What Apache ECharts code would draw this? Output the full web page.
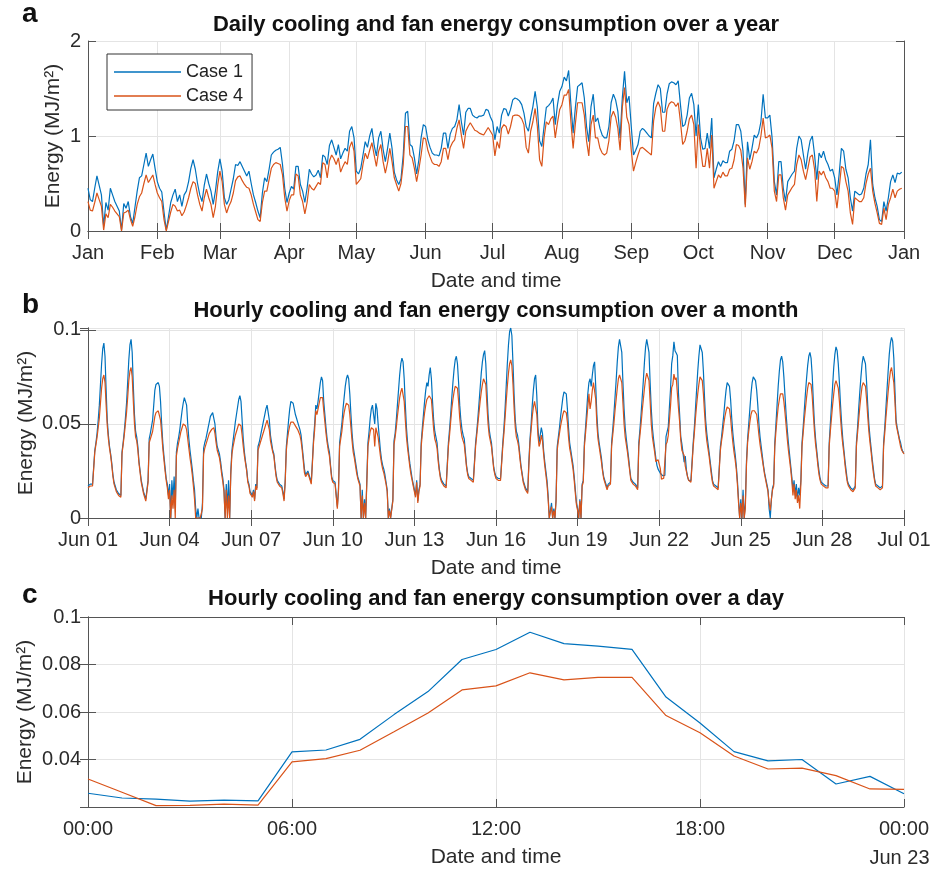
<!DOCTYPE html>
<html>
<head>
<meta charset="utf-8">
<script src="https://cdn.jsdelivr.net/npm/echarts@6/dist/echarts.min.js"></script>
<style>
html,body{margin:0;padding:0;background:#fff;}
#chart{width:930px;height:870px;}
</style>
</head>
<body>
<div id="chart"></div>
<script>
// ---------------- DATA ----------------
const seriesNames = ['Case 1', 'Case 4'];

// Panel a: daily values (Jan 1 .. Dec 31)
const monthLabels = ['Jan','Feb','Mar','Apr','May','Jun','Jul','Aug','Sep','Oct','Nov','Dec','Jan'];
const monthStartDays = [0,31,59,90,120,151,181,212,243,273,304,334,365];
const dailyCase1 = [
.45,.33,.31,.45,.58,.48,.38,.05,.30,.22,
.45,.38,.31,.26,.21,.01,.29,.24,.31,.15,
.08,.25,.42,.56,.58,.70,.82,.68,.75,.81,
.66,.52,.45,.41,.20,.01,.15,.30,.38,.44,
.31,.38,.26,.38,.42,.52,.66,.75,.65,.50,
.38,.31,.48,.60,.50,.42,.28,.42,.62,.76,
.63,.35,.28,.33,.44,.55,.70,.69,.73,.68,
.63,.58,.63,.50,.38,.30,.21,.14,.40,.56,
.52,.65,.80,.83,.85,.86,.88,.70,.45,.30,
.40,.47,.44,.68,.68,.49,.42,.30,.45,.65,
.60,.57,.59,.64,.56,.80,.78,.70,.90,.96,
.88,.80,.91,.76,.82,.87,.84,1.05,1.10,.98,
.63,.60,.66,.80,.94,.88,1.00,1.08,.90,.79,
.98,1.05,.86,.73,.87,1.03,.87,.62,.54,.49,
.55,.80,1.24,1.26,.91,.89,.77,.60,.75,.98,
1.12,1.10,.96,.88,.82,.80,.80,.79,.87,1.03,
1.03,.87,1.02,1.08,1.10,1.17,1.33,1.15,1.01,1.25,
1.29,1.29,1.22,1.20,1.19,1.21,1.21,1.22,1.28,1.27,
1.20,1.15,.96,1.10,1.03,1.22,1.29,1.28,1.21,1.28,
1.38,1.40,1.39,1.37,1.33,1.24,1.10,1.05,1.19,1.31,
1.47,1.30,.95,.89,1.10,1.30,1.32,1.35,1.40,1.12,
1.33,1.47,1.52,1.62,1.58,1.69,1.33,1.03,1.30,1.52,
1.54,1.56,1.40,1.10,.94,1.31,1.44,1.15,1.19,1.08,
1.01,.98,.98,1.10,1.35,1.44,1.38,1.26,.98,1.40,
1.68,1.35,1.42,1.10,.80,.85,.91,1.05,1.08,1.06,
1.03,1.00,.98,1.34,1.45,1.54,1.50,1.25,1.25,1.44,
1.55,1.57,1.56,1.54,1.58,1.33,1.10,1.12,1.22,1.40,
1.45,1.33,1.00,1.33,.98,.86,.87,1.03,.87,1.19,
.56,.65,.73,.68,.74,.72,.72,.84,.86,.95,
1.12,1.12,1.05,.84,.28,.94,.75,.87,1.01,.98,
1.03,1.15,1.44,1.19,1.19,1.22,.98,.52,.38,.73,
.73,.45,.31,.52,.56,.60,.63,.87,1.00,.96,
.80,.65,.82,.95,1.00,.80,.54,.82,.77,.84,
.75,.70,.63,.65,.56,.38,.60,.87,.84,.65,
.56,.35,.21,.42,.40,.38,.39,.45,.60,.70,
.96,.49,.35,.26,.12,.10,.31,.21,.35,.52,
.59,.51,.61,.60,.62
];
const dailyCase4 = [
.31,.22,.21,.30,.40,.33,.26,.01,.18,.14,
.28,.25,.21,.18,.15,.00,.19,.20,.22,.12,
.05,.15,.28,.36,.40,.50,.59,.51,.55,.59,
.49,.40,.35,.31,.12,.00,.10,.20,.28,.26,
.21,.22,.16,.20,.27,.35,.45,.52,.50,.38,
.28,.21,.35,.44,.35,.28,.14,.26,.48,.63,
.52,.28,.19,.26,.31,.40,.53,.57,.58,.53,
.49,.46,.45,.38,.28,.20,.12,.10,.30,.42,
.42,.54,.66,.70,.72,.71,.70,.59,.35,.21,
.32,.38,.38,.60,.58,.38,.31,.18,.30,.49,
.45,.43,.47,.51,.49,.72,.70,.56,.74,.80,
.76,.70,.77,.62,.68,.73,.70,.88,.94,.84,
.49,.52,.55,.70,.82,.76,.85,.93,.80,.68,
.84,.91,.73,.61,.72,.87,.73,.56,.49,.42,
.50,.70,1.10,1.10,.80,.77,.66,.52,.65,.80,
.98,.97,.85,.78,.72,.70,.70,.68,.73,.87,
.87,.75,.88,.93,.96,1.08,1.17,1.01,.87,1.05,
1.10,1.14,1.10,1.06,1.05,1.03,1.02,1.01,1.05,1.09,
1.05,1.01,.79,.94,.87,1.08,1.12,1.10,1.02,1.10,
1.21,1.22,1.22,1.21,1.18,1.12,.88,.82,1.05,1.15,
1.29,1.10,.75,.68,.98,1.15,1.12,1.18,1.21,.98,
1.14,1.28,1.33,1.43,1.43,1.49,1.15,.87,1.13,1.35,
1.35,1.35,1.22,.95,.79,1.12,1.22,.98,.98,.87,
.82,.80,.82,.95,1.20,1.26,1.20,1.08,.85,1.30,
1.51,1.20,1.12,.85,.63,.72,.80,.87,.88,.86,
.84,.82,.80,1.16,1.30,1.36,1.30,1.05,1.05,1.28,
1.34,1.36,1.35,1.31,1.35,1.15,.91,.95,1.05,1.18,
1.22,1.12,.66,1.12,.87,.68,.68,.87,.66,1.01,
.45,.52,.59,.56,.62,.58,.58,.65,.66,.75,
.91,.90,.85,.66,.25,.77,.65,.73,.84,.82,
.87,1.00,1.19,.98,.99,1.01,.87,.42,.31,.59,
.59,.35,.22,.38,.42,.46,.49,.70,.80,.75,
.63,.54,.66,.78,.80,.65,.31,.63,.59,.63,
.56,.52,.45,.45,.42,.24,.45,.68,.66,.52,
.42,.19,.07,.35,.33,.31,.31,.35,.50,.60,
.66,.42,.29,.19,.08,.07,.24,.12,.28,.35,
.44,.35,.42,.44,.45
];

// Panel b: hourly values, Jun 01 00:00 .. Jul 01 00:00 (one row per day)
const monthTickLabels = ['Jun 01','Jun 04','Jun 07','Jun 10','Jun 13','Jun 16','Jun 19','Jun 22','Jun 25','Jun 28','Jul 01'];
const hourlyMonthCase1 = [
.017,.017,.018,.018,.018,.019,.036,.040,.045,.052,.060,.071,.082,.090,.093,.086,.068,.052,.044,.038,.034,.029,.023,.019,
.017,.015,.014,.013,.012,.012,.035,.040,.046,.053,.061,.072,.084,.092,.095,.088,.070,.055,.046,.043,.038,.030,.025,.020,
.017,.014,.012,.010,.015,.020,.042,.045,.046,.052,.060,.068,.071,.072,.072,.070,.062,.050,.040,.033,.027,.021,.018,.012,
.018,.000,.020,.010,.022,.005,.035,.040,.043,.047,.052,.057,.061,.064,.064,.060,.050,.042,.036,.031,.026,.020,.015,.005,
.000,.005,.000,.000,.000,.008,.037,.040,.042,.045,.048,.051,.054,.055,.056,.056,.050,.043,.038,.036,.034,.030,.025,.021,
.015,.000,.018,.005,.020,.000,.025,.036,.041,.046,.051,.055,.059,.063,.065,.062,.052,.042,.035,.030,.026,.020,.018,.014,
.014,.012,.015,.010,.018,.016,.038,.040,.043,.046,.049,.052,.055,.058,.060,.060,.052,.044,.040,.036,.034,.028,.023,.020,
.019,.018,.018,.017,.014,.010,.020,.038,.045,.052,.058,.062,.063,.061,.058,.055,.053,.051,.049,.047,.044,.038,.032,.026,
.023,.024,.025,.023,.021,.019,.030,.042,.050,.060,.058,.062,.067,.072,.075,.073,.062,.055,.048,.042,.038,.035,.028,.022,
.020,.019,.019,.019,.006,.015,.040,.045,.050,.058,.064,.070,.074,.076,.074,.066,.055,.045,.038,.034,.030,.026,.022,.020,
.018,.000,.015,.000,.010,.000,.020,.040,.046,.053,.058,.060,.055,.050,.061,.058,.050,.043,.036,.031,.028,.026,.023,.019,
.015,.000,.005,.000,.000,.010,.041,.045,.052,.060,.068,.076,.082,.085,.083,.074,.060,.048,.040,.034,.029,.025,.021,.018,
.018,.012,.020,.009,.015,.018,.040,.048,.055,.062,.068,.072,.070,.076,.080,.074,.062,.052,.046,.043,.040,.032,.026,.022,
.020,.019,.018,.018,.017,.017,.040,.047,.055,.064,.072,.079,.084,.086,.082,.072,.060,.052,.047,.044,.042,.035,.028,.024,
.022,.021,.021,.021,.020,.020,.040,.046,.053,.061,.069,.077,.083,.087,.089,.082,.068,.055,.047,.043,.040,.033,.027,.024,
.022,.022,.021,.021,.021,.021,.040,.048,.058,.070,.082,.092,.099,.101,.097,.082,.065,.052,.046,.044,.040,.034,.028,.024,
.020,.018,.016,.015,.014,.030,.042,.050,.060,.068,.074,.076,.065,.048,.040,.044,.048,.045,.036,.030,.025,.020,.012,.000,
.000,.008,.000,.005,.000,.010,.038,.043,.048,.054,.059,.064,.067,.068,.066,.058,.048,.040,.036,.032,.028,.022,.015,.008,
.005,.000,.010,.000,.018,.020,.040,.048,.057,.066,.072,.074,.070,.076,.081,.083,.070,.055,.045,.040,.036,.032,.026,.022,
.020,.020,.016,.018,.019,.019,.040,.047,.055,.064,.073,.083,.091,.095,.096,.088,.072,.058,.048,.042,.037,.032,.026,.021,
.020,.019,.018,.018,.017,.016,.040,.047,.055,.064,.073,.083,.091,.095,.096,.088,.072,.058,.048,.042,.037,.032,.028,.026,
.0258,.0238,.0233,.0225,.0229,.0226,.0432,.0440,.0485,.0589,.0686,.0821,.0863,.0936,.0888,.0877,.0864,.0663,.0554,.0433,.0394,.0400,.0297,.0329,
.0256,.022,.020,.020,.020,.020,.040,.048,.058,.068,.078,.086,.092,.093,.088,.078,.064,.052,.045,.040,.035,.030,.025,.020,
.018,.018,.017,.017,.016,.016,.038,.043,.049,.055,.062,.068,.072,.073,.070,.063,.053,.045,.039,.034,.028,.020,.010,.000,
.010,.000,.015,.000,.008,.030,.042,.050,.058,.066,.072,.075,.075,.073,.068,.060,.050,.043,.038,.033,.028,.024,.021,.018,
.015,.005,.000,.010,.016,.018,.040,.050,.060,.070,.078,.084,.086,.083,.075,.065,.055,.047,.040,.034,.028,.022,.015,.020,
.012,.018,.010,.016,.012,.020,.040,.048,.057,.066,.074,.081,.086,.088,.085,.076,.062,.050,.042,.036,.030,.025,.021,.019,
.018,.018,.017,.017,.017,.017,.040,.050,.060,.070,.080,.087,.091,.089,.082,.072,.060,.050,.042,.036,.030,.025,.020,.018,
.017,.016,.016,.015,.016,.017,.040,.048,.058,.067,.075,.082,.086,.087,.082,.072,.060,.050,.043,.037,.031,.026,.021,.018,
.017,.017,.016,.016,.016,.017,.040,.048,.058,.068,.078,.087,.093,.096,.094,.085,.068,.052,.048,.045,.042,.040,.037,.035,
.035
];
const hourlyMonthCase4 = [
.016,.016,.017,.017,.017,.018,.035,.039,.043,.048,.053,.061,.069,.074,.076,.072,.060,.049,.042,.037,.033,.028,.022,.018,
.016,.014,.013,.012,.011,.011,.034,.039,.044,.050,.056,.064,.073,.078,.080,.075,.062,.050,.043,.041,.036,.029,.024,.019,
.016,.013,.011,.009,.014,.019,.040,.042,.043,.046,.050,.054,.056,.057,.057,.056,.052,.045,.037,.031,.025,.020,.016,.010,
.015,.000,.012,.005,.015,.000,.033,.037,.040,.043,.046,.048,.050,.050,.049,.047,.042,.037,.032,.028,.023,.017,.010,.000,
.000,.000,.000,.000,.000,.005,.034,.037,.039,.041,.043,.045,.046,.047,.048,.048,.045,.040,.036,.034,.032,.028,.023,.019,
.014,.000,.015,.000,.012,.000,.023,.034,.038,.041,.044,.046,.048,.050,.051,.049,.044,.038,.033,.029,.025,.019,.017,.013,
.013,.011,.014,.009,.017,.015,.036,.038,.040,.042,.044,.046,.048,.050,.052,.052,.047,.041,.038,.035,.033,.027,.022,.019,
.018,.017,.017,.016,.013,.009,.019,.036,.042,.046,.049,.051,.052,.051,.050,.049,.048,.047,.046,.044,.041,.036,.030,.024,
.022,.023,.024,.022,.020,.018,.029,.040,.047,.057,.055,.058,.061,.064,.065,.064,.057,.051,.045,.040,.036,.033,.027,.021,
.019,.018,.018,.018,.005,.014,.038,.042,.046,.052,.056,.059,.061,.061,.060,.055,.048,.041,.035,.032,.028,.024,.021,.019,
.017,.000,.012,.000,.008,.000,.018,.038,.042,.046,.048,.048,.047,.038,.048,.047,.043,.038,.033,.029,.026,.024,.021,.018,
.014,.000,.004,.000,.000,.009,.039,.043,.048,.054,.059,.064,.067,.069,.068,.062,.052,.043,.037,.032,.027,.023,.020,.017,
.017,.011,.019,.008,.014,.017,.038,.045,.051,.056,.060,.063,.062,.065,.066,.063,.055,.047,.042,.040,.037,.030,.025,.021,
.019,.018,.017,.017,.016,.016,.038,.044,.051,.058,.063,.067,.070,.071,.069,.062,.053,.047,.043,.041,.039,.033,.027,.023,
.021,.020,.020,.020,.019,.019,.038,.044,.050,.056,.062,.067,.071,.074,.075,.071,.060,.050,.044,.041,.038,.032,.026,.023,
.021,.021,.020,.020,.020,.020,.038,.045,.053,.062,.070,.077,.082,.084,.081,.071,.058,.048,.043,.041,.038,.032,.027,.023,
.019,.017,.015,.014,.013,.028,.040,.047,.054,.059,.062,.063,.055,.044,.038,.040,.044,.041,.034,.028,.023,.018,.010,.000,
.000,.006,.000,.004,.000,.009,.036,.041,.045,.049,.052,.055,.057,.057,.056,.051,.043,.037,.034,.030,.026,.020,.013,.007,
.004,.000,.009,.000,.017,.019,.038,.045,.052,.059,.066,.058,.062,.068,.072,.073,.063,.050,.042,.038,.034,.030,.025,.021,
.019,.019,.015,.017,.018,.018,.038,.044,.050,.057,.063,.069,.074,.076,.077,.072,.061,.050,.043,.039,.035,.030,.025,.020,
.019,.018,.017,.017,.016,.015,.038,.044,.050,.057,.063,.069,.074,.077,.078,.073,.062,.050,.043,.039,.035,.030,.030,.031,
.0318,.0262,.0206,.0207,.0212,.0208,.0390,.0404,.0439,.0517,.0596,.0693,.0710,.0765,.0735,.0746,.0746,.0585,.0513,.0415,.0360,.0364,.0332,.0276,
.0274,.022,.020,.020,.019,.019,.038,.045,.053,.060,.066,.071,.075,.076,.073,.066,.056,.047,.041,.037,.033,.028,.023,.019,
.017,.017,.016,.016,.015,.015,.036,.041,.045,.050,.054,.057,.059,.059,.058,.053,.046,.040,.035,.031,.026,.018,.008,.000,
.008,.000,.012,.000,.005,.028,.040,.046,.051,.055,.057,.057,.057,.057,.055,.050,.044,.039,.035,.031,.027,.023,.020,.017,
.014,.008,.004,.010,.015,.017,.038,.046,.053,.059,.063,.066,.067,.066,.062,.056,.049,.042,.036,.031,.026,.020,.012,.018,
.010,.015,.008,.012,.005,.018,.038,.045,.052,.058,.064,.069,.072,.073,.071,.065,.055,.046,.039,.034,.028,.023,.020,.018,
.017,.017,.016,.016,.016,.016,.038,.046,.053,.060,.066,.071,.073,.073,.069,.062,.053,.045,.039,.034,.028,.023,.019,.017,
.016,.015,.015,.014,.015,.016,.038,.045,.052,.059,.065,.070,.072,.073,.070,.063,.054,.046,.040,.035,.029,.024,.020,.017,
.016,.016,.015,.015,.015,.016,.038,.045,.053,.060,.067,.073,.078,.080,.079,.072,.062,.050,.047,.044,.041,.038,.036,.035,
.034
];

// Panel c: hourly values on Jun 22 (00:00 .. 24:00)
const dayTickLabels = ['00:00','06:00','12:00','18:00','00:00'];
const dayEndDateLabel = 'Jun 23';
const hourlyDayCase1 = [.0258,.0238,.0233,.0225,.0229,.0226,.0432,.0440,.0485,.0589,.0686,.0821,.0863,.0936,.0888,.0877,.0864,.0663,.0554,.0433,.0394,.0400,.0297,.0329,.0256];
const hourlyDayCase4 = [.0318,.0262,.0206,.0207,.0212,.0208,.0390,.0404,.0439,.0517,.0596,.0693,.0710,.0765,.0735,.0746,.0746,.0585,.0513,.0415,.0360,.0364,.0332,.0276,.0274];

const panelTitles = [
  'Daily cooling and fan energy consumption over a year',
  'Hourly cooling and fan energy consumption over a month',
  'Hourly cooling and fan energy consumption over a day'
];
const panelLetters = ['a','b','c'];
const xAxisName = 'Date and time';
const yAxisName = 'Energy (MJ/m\u00B2)';

// ---------------- STYLE / LAYOUT ----------------
const FONT = '"Liberation Sans", Arial, Helvetica, sans-serif';
const COLORS = ['#0072BD', '#D95319'];
const AXIS = '#555555';
const LABEL = '#2b2b2b';
const GRIDC = '#e4e4e4';
const PLOT_L = 88, PLOT_R = 904;
const tops = [41, 328, 617];
const H = 190;

const chart = echarts.init(document.getElementById('chart'), null, {renderer: 'canvas'});

const axisLine = {show: true, lineStyle: {color: AXIS, width: 1}};
const tickStyle = {show: true, inside: true, length: 8, lineStyle: {color: AXIS, width: 1}};
const labelStyle = {color: LABEL, fontSize: 20, fontFamily: FONT};
const splitStyle = {show: true, lineStyle: {color: GRIDC, width: 1}};
const nameStyle = {color: LABEL, fontSize: 21, fontFamily: FONT};

const grids = tops.map(t => ({left: PLOT_L, right: 930 - PLOT_R, top: t, height: H,
  containLabel: false, outerBoundsMode: 'none'}));

const dayCats = [];
for (let i = 0; i <= 365; i++) dayCats.push(String(i));
const isMonthStart = (idx) => monthStartDays.indexOf(idx) >= 0;

const xAxes = [
  // panel a
  {type: 'category', gridIndex: 0, data: dayCats, boundaryGap: false, position: 'bottom',
   axisLine, axisTick: Object.assign({}, tickStyle, {interval: isMonthStart}),
   axisLabel: Object.assign({}, labelStyle, {margin: 12, interval: isMonthStart,
     formatter: (v, idx) => monthLabels[monthStartDays.indexOf(Number(v))] || ''}),
   splitLine: Object.assign({}, splitStyle, {interval: isMonthStart}),
   name: xAxisName, nameLocation: 'middle', nameGap: 40, nameMoveOverlap: false, nameTextStyle: nameStyle},
  {type: 'category', gridIndex: 0, data: dayCats, boundaryGap: false, position: 'top',
   axisLine, axisTick: Object.assign({}, tickStyle, {interval: isMonthStart}),
   axisLabel: {show: false}, splitLine: {show: false}},
  // panel b
  {type: 'value', gridIndex: 1, min: 0, max: 720, interval: 72, position: 'bottom',
   axisLine, axisTick: tickStyle,
   axisLabel: Object.assign({}, labelStyle, {margin: 12, formatter: v => monthTickLabels[Math.round(v / 72)]}),
   splitLine: splitStyle,
   name: xAxisName, nameLocation: 'middle', nameGap: 40, nameMoveOverlap: false, nameTextStyle: nameStyle},
  {type: 'value', gridIndex: 1, min: 0, max: 720, interval: 72, position: 'top',
   axisLine, axisTick: tickStyle, axisLabel: {show: false}, splitLine: {show: false}},
  // panel c
  {type: 'value', gridIndex: 2, min: 0, max: 24, interval: 6, position: 'bottom',
   axisLine, axisTick: tickStyle,
   axisLabel: Object.assign({}, labelStyle, {margin: 12,
     formatter: v => {
       const i = Math.round(v / 6);
       if (i === dayTickLabels.length - 1) return '{t|' + dayTickLabels[i] + '}\n{d|' + dayEndDateLabel + '}';
       return '{t|' + dayTickLabels[i] + '}';
     },
     rich: {
       t: {fontSize: 20, fontFamily: FONT, color: LABEL, lineHeight: 20},
       d: {fontSize: 20, fontFamily: FONT, color: LABEL, lineHeight: 38, padding: [0, 9, 0, 0]}
     }}),
   splitLine: splitStyle,
   name: xAxisName, nameLocation: 'middle', nameGap: 40, nameMoveOverlap: false, nameTextStyle: nameStyle},
  {type: 'value', gridIndex: 2, min: 0, max: 24, interval: 6, position: 'top',
   axisLine, axisTick: tickStyle, axisLabel: {show: false}, splitLine: {show: false}}
];

function yPair(gi, min, max, interval, nameGap, extraLabel) {
  return [
    {type: 'value', gridIndex: gi, min, max, interval, position: 'left',
     axisLine, axisTick: tickStyle,
     axisLabel: Object.assign({}, labelStyle, {margin: 7}, extraLabel || {}),
     splitLine: splitStyle,
     name: yAxisName, nameLocation: 'middle', nameGap, nameRotate: 90, nameMoveOverlap: false,
     nameTextStyle: nameStyle},
    {type: 'value', gridIndex: gi, min, max, interval, position: 'right',
     axisLine, axisTick: tickStyle, axisLabel: {show: false}, splitLine: {show: false}}
  ];
}

const yAxes = [].concat(
  yPair(0, 0, 2, 1, 24),
  yPair(1, 0, 0.101, 0.05, 51, {showMaxLabel: false}),
  yPair(2, 0.02, 0.1, 0.02, 52, {showMinLabel: false})
);

function lineSeries(name, gi, data, color) {
  return {
    name, type: 'line', xAxisIndex: gi * 2, yAxisIndex: gi * 2, data,
    symbol: 'none', showSymbol: false, clip: true,
    lineStyle: {color, width: 1.2}, itemStyle: {color},
    emphasis: {disabled: true}, animation: false
  };
}

const series = [
  lineSeries(seriesNames[0], 0, dailyCase1, COLORS[0]),
  lineSeries(seriesNames[1], 0, dailyCase4, COLORS[1]),
  lineSeries(seriesNames[0], 1, hourlyMonthCase1.map((v, i) => [i, v]), COLORS[0]),
  lineSeries(seriesNames[1], 1, hourlyMonthCase4.map((v, i) => [i, v]), COLORS[1]),
  lineSeries(seriesNames[0], 2, hourlyDayCase1.map((v, i) => [i, v]), COLORS[0]),
  lineSeries(seriesNames[1], 2, hourlyDayCase4.map((v, i) => [i, v]), COLORS[1])
];

const titleBase = [25, 311, 599];
const letterBase = [14, 305, 595];
const graphics = [];
panelTitles.forEach((t, i) => {
  graphics.push({type: 'text', x: (PLOT_L + PLOT_R) / 2, y: titleBase[i], silent: true,
    style: {text: t, fill: '#111', font: 'bold 22px ' + FONT, align: 'center', verticalAlign: 'middle'}});
  graphics.push({type: 'text', x: 22, y: letterBase[i], silent: true,
    style: {text: panelLetters[i], fill: '#111', font: 'bold 28px ' + FONT, align: 'left', verticalAlign: 'middle'}});
});

chart.setOption({
  animation: false,
  backgroundColor: '#fff',
  grid: grids,
  xAxis: xAxes,
  yAxis: yAxes,
  series,
  legend: {
    data: seriesNames.map((n, i) => ({name: n, icon: 'rect', itemStyle: {color: COLORS[i]}})),
    orient: 'vertical', left: 107, top: 54,
    backgroundColor: '#fff', borderColor: '#333', borderWidth: 1,
    padding: [9, 9, 5, 7], itemWidth: 67, itemHeight: 1.5, itemGap: 6,
    selectedMode: false,
    textStyle: {fontSize: 18, fontFamily: FONT, color: '#222', lineHeight: 18}
  },
  graphic: graphics
});
</script>
</body>
</html>
